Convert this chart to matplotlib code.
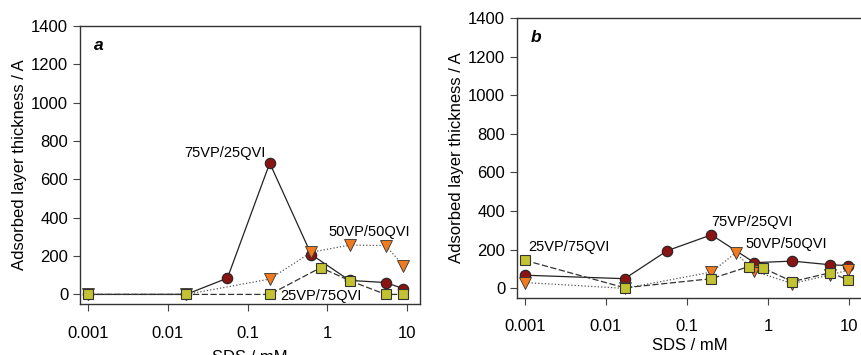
import matplotlib.pyplot as plt
from matplotlib.ticker import FixedLocator, NullLocator

plt.rcParams['font.family'] = ['Liberation Sans', 'DejaVu Sans']
plt.rcParams['font.size'] = 12

# panel a: SDS concentration (mM) vs adsorbed layer thickness (A)
a_x_75 = [0.001, 0.017, 0.056, 0.19, 0.63, 1.9, 5.4, 9.0]
a_y_75 = [0, 0, 85, 685, 208, 73, 62, 30]
a_x_50 = [0.001, 0.017, 0.19, 0.63, 1.9, 5.4, 9.0]
a_y_50 = [0, 0, 80, 220, 257, 255, 150]
a_x_25 = [0.001, 0.017, 0.19, 0.83, 1.9, 5.4, 9.0]
a_y_25 = [0, 0, 0, 140, 72, 0, 0]

# panel b
b_x_75 = [0.001, 0.017, 0.057, 0.2, 0.68, 2.0, 5.9, 9.6]
b_y_75 = [68, 50, 195, 277, 133, 141, 122, 118]
b_x_50 = [0.001, 0.017, 0.2, 0.4, 0.68, 2.0, 5.9, 9.6]
b_y_50 = [30, 0, 84, 184, 88, 25, 70, 93]
b_x_25 = [0.001, 0.017, 0.2, 0.58, 0.87, 2.0, 5.9, 9.6]
b_y_25 = [145, 3, 50, 113, 105, 35, 81, 45]

xticks = [0.001, 0.01, 0.1, 1, 10]
xticklabels = ['0.001', '0.01', '0.1', '1', '10']
yticks = [0, 200, 400, 600, 800, 1000, 1200, 1400]

red = '#8a1414'
orange = '#f07a1e'
olive = '#c2c232'


def draw(ax, d75, d50, d25, tag, notes, xlim, xpad, lpad):
    ax.plot(d75[0], d75[1], '-', color='#222222', lw=0.9, marker='o',
            ms=7.5, mfc=red, mec='#222222', mew=0.8, zorder=3)
    ax.plot(d50[0], d50[1], ':', color='#555555', lw=0.9, marker='v',
            ms=8.5, mfc=orange, mec='#333333', mew=0.6, zorder=4)
    ax.plot(d25[0], d25[1], '--', color='#333333', lw=0.9, dashes=(5, 2),
            marker='s', ms=7.5, mfc=olive, mec='#333333', mew=0.8, zorder=5)
    ax.set_xscale('log')
    ax.set_xlim(*xlim)
    ax.set_ylim(-50, 1400)
    ax.xaxis.set_major_locator(FixedLocator(xticks))
    ax.xaxis.set_minor_locator(NullLocator())
    ax.set_xticklabels(xticklabels)
    ax.set_yticks(yticks)
    ax.tick_params(direction='out', length=5, width=0.8, color='#444444',
                   labelsize=12)
    ax.tick_params(axis='x', pad=xpad)
    for s in ax.spines.values():
        s.set_linewidth(1.0)
        s.set_color('#333333')
    ax.set_ylabel('Adsorbed layer thickness / A', fontsize=12, labelpad=3)
    ax.set_xlabel('SDS / mM', fontsize=12, labelpad=lpad)
    ax.text(0.04, 0.93, tag, transform=ax.transAxes, fontsize=12.5,
            fontweight='bold', fontstyle='italic', va='center', ha='left')
    for txt, x, y in notes:
        ax.text(x, y, txt, fontsize=10.5, ha='center', va='center')


fig = plt.figure(figsize=(8.61, 3.55), dpi=100)

ax_a = fig.add_axes([80 / 861, 51 / 355, 340 / 861, 278 / 355])
draw(ax_a, (a_x_75, a_y_75), (a_x_50, a_y_50), (a_x_25, a_y_25), 'a',
     [('75VP/25QVI', 0.052, 740), ('50VP/50QVI', 3.35, 328),
      ('25VP/75QVI', 0.84, -10)],
     (10 ** -3.1, 10 ** 1.1625), 11, 6)

ax_b = fig.add_axes([517 / 861, 57 / 355, 345 / 861, 280 / 355])
draw(ax_b, (b_x_75, b_y_75), (b_x_50, b_y_50), (b_x_25, b_y_25), 'b',
     [('25VP/75QVI', 0.0035, 212), ('75VP/25QVI', 0.63, 346),
      ('50VP/50QVI', 1.66, 232)],
     (10 ** (-3 - 8 / 81), 10 ** (1 + 13 / 81)), 10, 3)

fig.savefig('out.png', dpi=100)
